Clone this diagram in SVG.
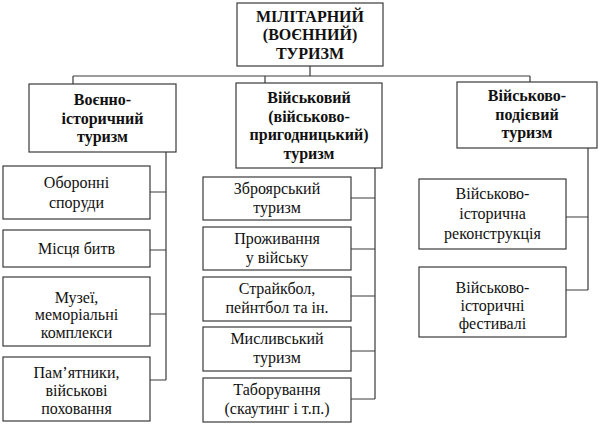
<svg xmlns="http://www.w3.org/2000/svg" width="600" height="425" viewBox="0 0 600 425">
<style>
.box{fill:#fff;stroke:#3a3a3a;stroke-width:1.2}
.c{fill:none;stroke:#3a3a3a;stroke-width:1.2}
.t{fill:#111;text-anchor:middle;font-size:16px}
.b{font-weight:bold}
</style>
<rect x="0" y="0" width="600" height="425" fill="#fff"/>
<g id="connectors">
<path class="c" d="M310 66V76M73 76H530M73 76V84M265 76V83M530 76V82"/>
<path class="c" d="M166 152V380M150 192H166M150 250H166M150 314H166M150 380H166"/>
<path class="c" d="M375 168V399M351 198H375M351 249H375M351 296H375M351 351H375M351 399H375"/>
<path class="c" d="M588 148V290M566 217H588M566 290H588"/>
</g>
<g font-family="Liberation Serif, Times New Roman, serif">
<g id="root" class="t b"><rect class="box" x="237" y="3" width="146" height="63"/><text x="310" y="21.5">МІЛІТАРНИЙ</text><text x="310" y="40">(ВОЄННИЙ)</text><text x="310" y="58.5">ТУРИЗМ</text></g>
<g id="n1" class="t b"><rect class="box" x="29" y="84" width="147" height="68"/><text x="102.5" y="105">Воєнно-</text><text x="102.5" y="123.5">історичний</text><text x="102.5" y="142">туризм</text></g>
<g id="n2" class="t b"><rect class="box" x="236" y="83" width="146" height="85"/><text x="309" y="103">Військовий</text><text x="309" y="121.5">(військово-</text><text x="309" y="140">пригодницький)</text><text x="309" y="158.5">туризм</text></g>
<g id="n3" class="t b"><rect class="box" x="457" y="82" width="140" height="66"/><text x="527" y="101">Військово-</text><text x="527" y="119.5">подієвий</text><text x="527" y="138">туризм</text></g>
<g id="n1a" class="t"><rect class="box" x="3" y="166" width="147" height="53"/><text x="76.5" y="188">Оборонні</text><text x="76.5" y="208">споруди</text></g>
<g id="n1b" class="t"><rect class="box" x="3" y="230" width="147" height="37"/><text x="76.5" y="254">Місця битв</text></g>
<g id="n1c" class="t"><rect class="box" x="3" y="277" width="147" height="69"/><text x="76.5" y="302.5">Музеї,</text><text x="76.5" y="320">меморіальні</text><text x="76.5" y="337.5">комплекси</text></g>
<g id="n1d" class="t"><rect class="box" x="3" y="357" width="147" height="64"/><text x="76.5" y="377.5">Пам’ятники,</text><text x="76.5" y="395.5">військові</text><text x="76.5" y="413.5">поховання</text></g>
<g id="n2a" class="t"><rect class="box" x="203" y="177" width="148" height="43"/><text x="277" y="193.5">Зброярський</text><text x="277" y="212.5">туризм</text></g>
<g id="n2b" class="t"><rect class="box" x="203" y="227" width="148" height="43"/><text x="277" y="243.5">Проживання</text><text x="277" y="262.5">у війську</text></g>
<g id="n2c" class="t"><rect class="box" x="203" y="277" width="148" height="44"/><text x="277" y="294">Страйкбол,</text><text x="277" y="313">пейнтбол та ін.</text></g>
<g id="n2d" class="t"><rect class="box" x="203" y="327" width="148" height="44"/><text x="277" y="344">Мисливський</text><text x="277" y="363">туризм</text></g>
<g id="n2e" class="t"><rect class="box" x="203" y="378" width="148" height="44"/><text x="277" y="394.5">Таборування</text><text x="277" y="413.5">(скаутинг і т.п.)</text></g>
<g id="n3a" class="t"><rect class="box" x="419" y="179" width="147" height="70"/><text x="492.5" y="198.5">Військово-</text><text x="492.5" y="218.5">історична</text><text x="492.5" y="238.5">реконструкція</text></g>
<g id="n3b" class="t"><rect class="box" x="419" y="267" width="147" height="70"/><text x="492.5" y="292.5">Військово-</text><text x="492.5" y="310.5">історичні</text><text x="492.5" y="328.5">фестивалі</text></g>
</g>
</svg>
